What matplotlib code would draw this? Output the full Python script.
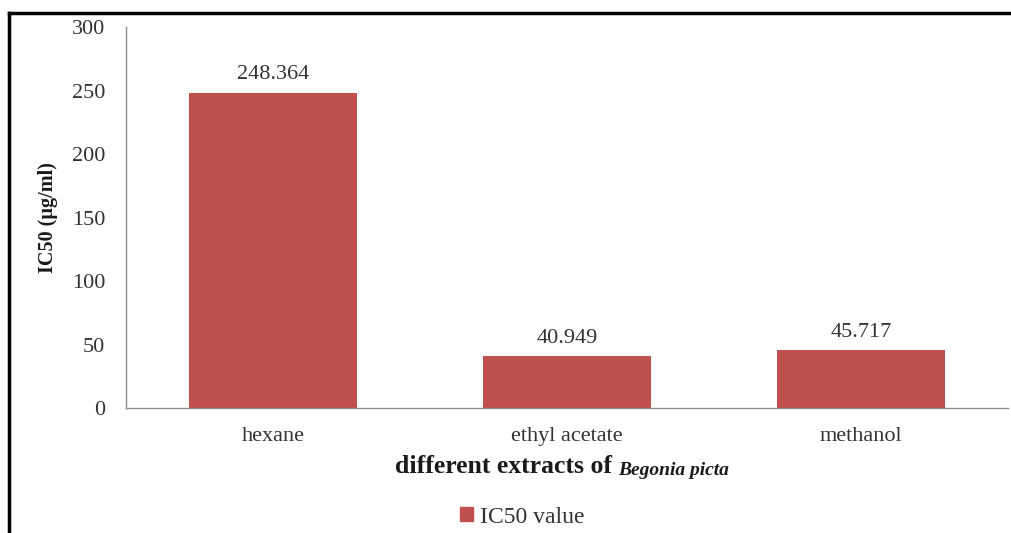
import matplotlib.pyplot as plt
from matplotlib.lines import Line2D
from matplotlib.patches import Patch

extracts = ['hexane', 'ethyl acetate', 'methanol']
ic50 = [248.364, 40.949, 45.717]
yticks = [0, 50, 100, 150, 200, 250, 300]

plt.rcParams['font.family'] = ['Liberation Serif', 'DejaVu Serif']

fig = plt.figure(figsize=(10.12, 5.33), dpi=100)
ax = fig.add_axes([0.1245, 0.2345, 0.8715, 0.7145])

bar_color = '#C0504D'
text_color = '#333333'
x = range(len(extracts))
bars = ax.bar(x, ic50, width=0.57, color=bar_color)

for rect, v in zip(bars, ic50):
    ax.annotate(f'{v:.3f}', (rect.get_x() + rect.get_width() / 2, v),
                xytext=(0, 6), textcoords='offset points',
                ha='center', va='bottom', fontsize=16, color=text_color)

ax.set_xlim(-0.5, len(extracts) - 0.5)
ax.set_ylim(0, 300)
ax.set_yticks(yticks)
ax.set_xticks(list(x))
ax.set_xticklabels(extracts)
ax.tick_params(axis='both', length=0, labelsize=16, labelcolor=text_color)
ax.tick_params(axis='y', pad=15)
ax.tick_params(axis='x', pad=14)

for side in ['top', 'right']:
    ax.spines[side].set_visible(False)
for side in ['left', 'bottom']:
    ax.spines[side].set_color('#8c8c8c')
    ax.spines[side].set_linewidth(1.0)

ax.set_ylabel('IC50 (µg/ml)', fontsize=14.5, fontweight='bold', labelpad=10,
              color='#1a1a1a')

# x-axis title: plain bold part plus italic species name
fig.text(0.605, 0.125, 'different extracts of', ha='right', va='center',
         fontsize=18.5, fontweight='bold', color='#1a1a1a')
fig.text(0.611, 0.117, 'Begonia picta', ha='left', va='center',
         fontsize=14, fontweight='bold', style='italic', color='#1a1a1a')

fig.legend(handles=[Patch(color=bar_color, label='IC50 value')],
           loc='center', bbox_to_anchor=(0.516, 0.03), frameon=False,
           fontsize=17, handlelength=0.55, handleheight=0.55, handletextpad=0.3,
           labelcolor=text_color)

# black frame lines along top and left of the figure
fig.add_artist(Line2D([0.0089, 1.0], [0.9756, 0.9756], color='black', lw=2.5,
                      transform=fig.transFigure))
fig.add_artist(Line2D([0.0089, 0.0089], [0.0, 0.9756], color='black', lw=2.5,
                      transform=fig.transFigure))

fig.savefig('out.png', dpi=100)
